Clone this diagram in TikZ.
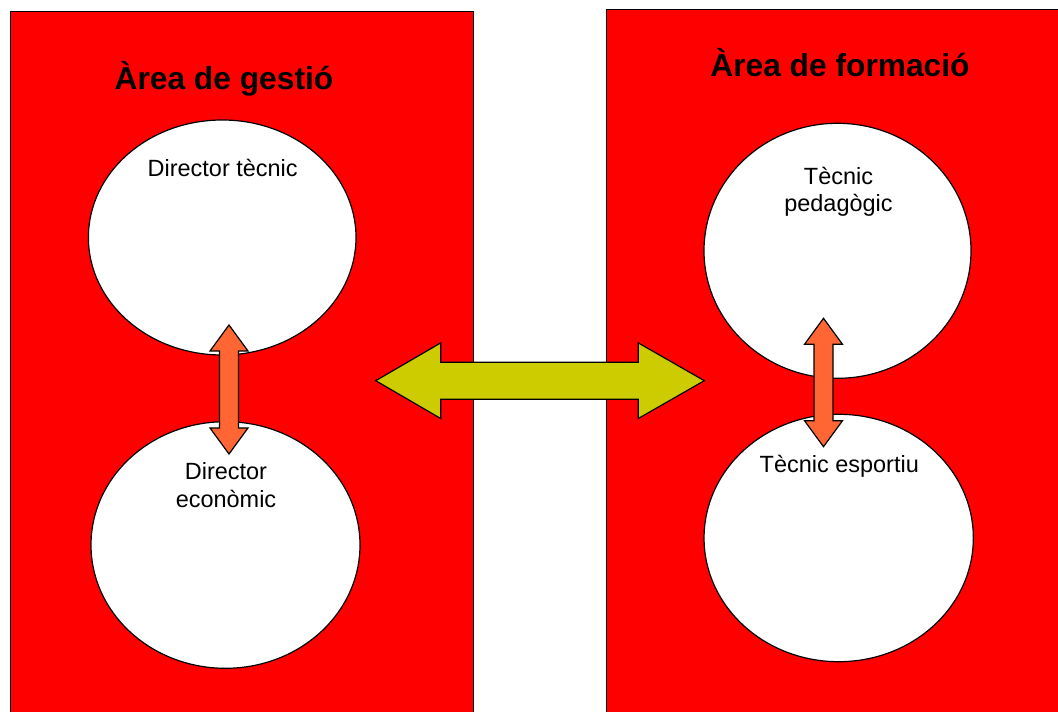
\documentclass[tikz,border=0pt]{standalone}
\usepackage{fontspec}
\setmainfont{Liberation Sans}
\usetikzlibrary{shapes.geometric}
\definecolor{areared}{HTML}{FF0000}
\definecolor{linkolive}{HTML}{CCCC00}
\definecolor{linkorange}{HTML}{FF6633}
\newcommand*\px{0.75pt}
\newcommand*\headlen {26}
\newcommand*\headhalf{19}
\newcommand*\shafthalf{9.5}
% vertical double block arrow: x, top tip, bottom tip
\newcommand*\vlinkarrow[3]{%
  \draw[vlink] (#1,#2) -- ({#1+\headhalf},{#2+\headlen}) -- ({#1+\shafthalf},{#2+\headlen})
    -- ({#1+\shafthalf},{#3-\headlen}) -- ({#1+\headhalf},{#3-\headlen}) -- (#1,#3)
    -- ({#1-\headhalf},{#3-\headlen}) -- ({#1-\shafthalf},{#3-\headlen})
    -- ({#1-\shafthalf},{#2+\headlen}) -- ({#1-\headhalf},{#2+\headlen}) -- cycle;}
\tikzset{
    area/.style  = {draw=black, fill=areared, line width=\px},
    staff/.style = {draw=black, fill=white, ellipse, line width=1.2*\px,
                    inner sep=0pt, outer sep=0pt},
    areatitle/.style = {font=\fontsize{23.8}{28}\selectfont\bfseries, anchor=base},
    role/.style  = {font=\fontsize{17.6}{20.4}\selectfont, anchor=base},
    vlink/.style = {draw=black, fill=linkorange, line width=1.2*\px, line join=miter},
    hlink/.style = {draw=black, fill=linkolive, line width=1.2*\px, line join=miter},
  }

\begin{document}
\begin{tikzpicture}[x=\px, y=-\px]
    \useasboundingbox (0,0) rectangle (1058,712);

    % the two areas
    \draw[area] (10.5,11.5) rectangle (473,730);
    \draw[area] (606.5,9.5) rectangle (1075,730);
    \node[areatitle] (gestio)   at (224,90)   {Àrea de gestió};
    \node[areatitle] (formacio) at (840,76.7) {Àrea de formació};

    % people in each area
    \node[staff, minimum width=267.6*\px, minimum height=235*\px]   (dirtec) at (222.2,237.5) {};
    \node[staff, minimum width=269*\px,   minimum height=246.6*\px] (direco) at (225.5,545)   {};
    \node[staff, minimum width=267*\px,   minimum height=255*\px]   (tecped) at (837.5,250.8) {};
    \node[staff, minimum width=269.3*\px, minimum height=247.4*\px] (tecesp) at (838.7,538)   {};

    \node[role] (dirtecl)  at (222.7,176.7) {Director tècnic};
    \node[role] (direcol1) at (226,480)     {Director};
    \node[role] (direcol2) at (226,507.3)   {econòmic};
    \node[role] (tecpedl1) at (838.5,185)   {Tècnic};
    \node[role] (tecpedl2) at (838.5,211.7) {pedagògic};
    \node[role] (tecespl)  at (839.3,472.7) {Tècnic esportiu};

    % links inside each area
    \vlinkarrow{229}{325}{454}
    \vlinkarrow{823.5}{318.3}{446.7}

    % link between the areas
    \draw[hlink] (375.7,380.7) -- (440.7,342.9) -- (440.7,362.2) -- (638.3,362.2)
        -- (638.3,342.9) -- (704.3,380.7) -- (638.3,418.5) -- (638.3,399.2)
        -- (440.7,399.2) -- (440.7,418.5) -- cycle;
\end{tikzpicture}
\end{document}
